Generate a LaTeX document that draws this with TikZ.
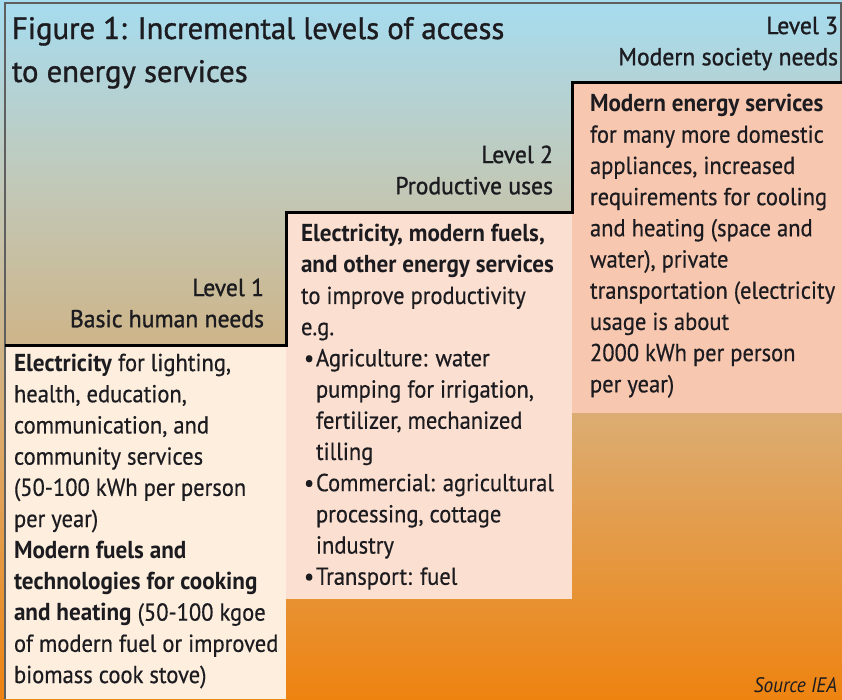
\documentclass[tikz,border=0pt]{standalone}
\usepackage{fontspec}
\setmainfont{PT Sans}[
  UprightFeatures={FakeStretch=0.92, FakeBold=0.5},
  BoldFeatures={FakeStretch=0.945},
  ItalicFeatures={FakeStretch=0.92}]
\newfontfamily\titlefont{PT Sans}[FakeStretch=0.99, FakeBold=1.2]
\newfontfamily\levelfont{PT Sans}[FakeStretch=0.965, FakeBold=1.2]

\definecolor{bgA}{RGB}{166,220,240}
\definecolor{bgB}{RGB}{192,202,188}
\definecolor{bgC}{RGB}{206,181,138}
\definecolor{bgD}{RGB}{220,172,112}
\definecolor{bgE}{RGB}{238,131,16}
\definecolor{boxone}{RGB}{253,238,222}
\definecolor{boxtwo}{RGB}{251,223,208}
\definecolor{boxthree}{RGB}{248,199,176}
\definecolor{ink}{RGB}{28,28,32}
\definecolor{framegray}{RGB}{95,95,95}

\tikzset{
  stepline/.style={draw=black, line width=3pt, line join=miter},
  framing/.style={draw=framegray, line width=1.3pt},
  bodytext/.style={inner sep=0pt, outer sep=0pt, text=ink, align=left,
    anchor=north west, font=\fontsize{24.5}{31.2}\selectfont},
  leveltext/.style={inner sep=0pt, outer sep=0pt, text=ink, align=right,
    anchor=north east, font=\levelfont\fontsize{24.5}{31.2}\selectfont},
  titletext/.style={inner sep=0pt, outer sep=0pt, text=ink, align=left,
    anchor=north west, font=\titlefont\fontsize{31}{43}\selectfont},
  sourcetext/.style={inner sep=0pt, outer sep=0pt, text=ink,
    anchor=base east, font=\fontsize{21}{24}\selectfont\itshape},
}
\newcommand{\bul}{\makebox[15pt][l]{\hspace{3pt}\textbullet}}
\newcommand{\ind}{\makebox[15pt]{}}

\begin{document}
\begin{tikzpicture}[x=1pt,y=-1pt]
  \useasboundingbox (0,0) rectangle (842,699);

  % sky-to-orange background
  \shade[top color=bgA, bottom color=bgB] (0,0) rectangle (842,170.5);
  \shade[top color=bgB, bottom color=bgC] (0,170) rectangle (842,340.5);
  \shade[top color=bgC, bottom color=bgD] (0,340) rectangle (842,420.5);
  \shade[top color=bgD, bottom color=bgE] (0,420) rectangle (842,699);

  % the three level boxes
  \fill[boxone]   (5,345) rectangle (286,699);
  \fill[boxtwo]   (286,212) rectangle (572,599);
  \fill[boxthree] (572,82) rectangle (842,413);

  % outer frame and staircase
  \draw[framing] (5,699) -- (5,3) -- (841,3) -- (841,82);
  \draw[stepline] (5,345) -- (286,345) -- (286,212) -- (572,212) -- (572,82) -- (842,82);

  % title
  \node[titletext] (title) at (12,8.9)
    {\strut Figure 1: Incremental levels of access\\to energy services};

  % level captions
  \node[leveltext] (lvlthree) at (838,12.2) {\strut Level 3\\Modern society needs};
  \node[leveltext] (lvltwo) at (553,141.2) {\strut Level 2\\Productive uses};
  \node[leveltext] (lvlone) at (264,274.2) {\strut Level 1\\Basic human needs};

  % level 1 box text
  \node[bodytext] (textone) at (14,349.2) {\strut\textbf{Electricity} for lighting,\\
    health, education,\\
    communication, and\\
    community services\\
    (50-100 kWh per person\\
    per year)\\
    \textbf{Modern fuels and}\\
    \textbf{technologies for cooking}\\
    \textbf{and heating} (50-100 kgoe\\
    of modern fuel or improved\\
    biomass cook stove)};

  % level 2 box text
  \node[bodytext] (texttwo) at (301,219.7) {\strut\textbf{Electricity, modern fuels,}\\
    \textbf{and other energy services}\\
    to improve productivity\\
    e.g.\\
    \bul Agriculture: water\\
    \ind pumping for irrigation,\\
    \ind fertilizer, mechanized\\
    \ind tilling\\
    \bul Commercial: agricultural\\
    \ind processing, cottage\\
    \ind industry\\
    \bul Transport: fuel};

  % level 3 box text
  \node[bodytext] (textthree) at (590,89.7) {\strut\textbf{Modern energy services}\\
    for many more domestic\\
    appliances, increased\\
    requirements for cooling\\
    and heating (space and\\
    water), private\\
    transportation (electricity\\
    usage is about\\
    2000 kWh per person\\
    per year)};

  \node[sourcetext] (source) at (837,692) {Source IEA};
\end{tikzpicture}
\end{document}
